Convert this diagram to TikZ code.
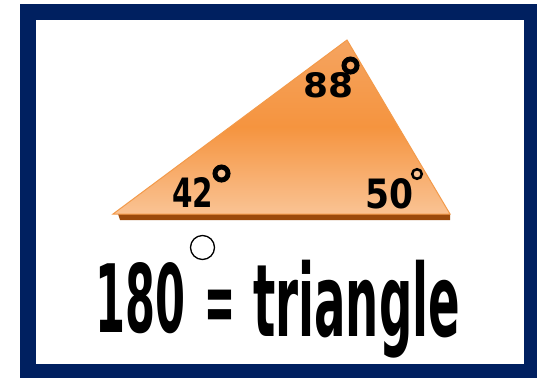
\documentclass[tikz,border=0pt]{standalone}
\usepackage{fontspec}
\setmainfont{DejaVu Sans}
\usepackage{graphicx}
\definecolor{navy}{HTML}{002060}
\definecolor{triedge}{HTML}{F39A4A}
\definecolor{tritop}{HTML}{F5A460}
\definecolor{trimid}{HTML}{F5943F}
\definecolor{tribot}{HTML}{FAC394}
\definecolor{shadowbrown}{HTML}{9C4A0C}
\begin{document}
\begin{tikzpicture}[x=1pt,y=-1pt,
  lbl/.style={anchor=north west,inner sep=0pt,outer sep=0pt,text=black},
  degthick/.style={draw=black,fill=tritop,line width=5pt},
  degthin/.style={draw=black,line width=2.5pt,fill=tribot}]
\useasboundingbox (0,0) rectangle (537,378);
% frame
\fill[navy] (20,4) rectangle (537,378);
\fill[white] (36,20) rectangle (524,364);
% shadow band
\fill[shadowbrown] (118,214) -- (450,214) -- (450,220) -- (120,220) -- cycle;
% triangle
\coordinate (A) at (113,214);
\coordinate (B) at (347,40);
\coordinate (C) at (450,214);
\shade[top color=tritop,bottom color=tribot,middle color=trimid,draw=triedge,line width=1pt,line join=miter]
  (A) -- (B) -- (C) -- cycle;
% angle labels
\node[lbl] (a88) at (303,72) {\resizebox{50pt}{25pt}{\bfseries 88}};
\draw[degthick] (350.5,65.5) circle[radius=6.5pt];
\node[lbl] (a42) at (172,177) {\resizebox{41pt}{30pt}{\bfseries 42}};
\draw[degthick,fill=tribot] (221.5,173.5) circle[radius=6.5pt];
\node[lbl] (a50) at (365,178) {\resizebox{48pt}{30pt}{\bfseries 50}};
\draw[degthin] (417,174) circle[radius=4.8pt];
% bottom text
\node[lbl] (t180) at (95,262) {\resizebox{90pt}{70pt}{\bfseries 180}};
\draw[black,line width=1.3pt] (202.5,247.5) circle[radius=12pt];
\node[anchor=base west,inner sep=0pt,outer sep=0pt] (teq) at (204,332)
  {\scalebox{0.42}[1]{\fontsize{88}{88}\selectfont\bfseries =}};
\node[lbl] (ttri) at (253,260) {\resizebox*{207pt}{98pt}{\bfseries triangle}};
\end{tikzpicture}
\end{document}
